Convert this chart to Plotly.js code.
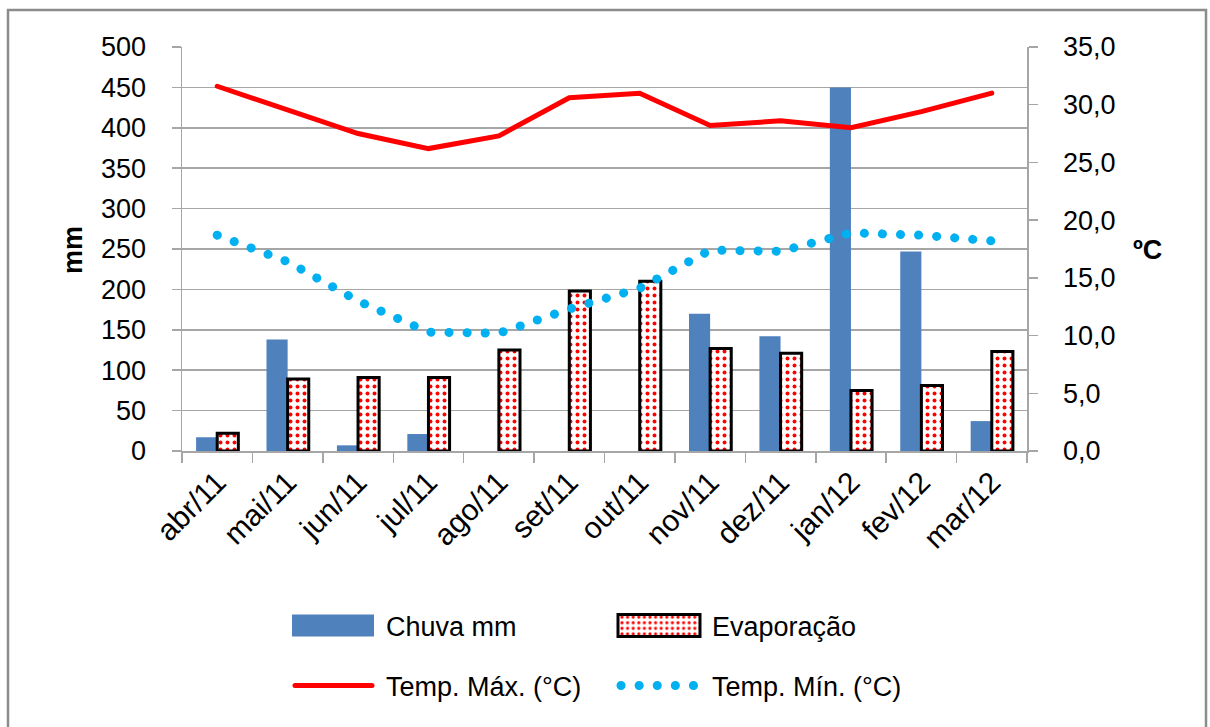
<!DOCTYPE html>
<html>
<head>
<meta charset="utf-8">
<script src="https://cdn.plot.ly/plotly-3.0.1.min.js"></script>
<style>
html,body{margin:0;padding:0;background:#fff;}
#chart{width:1210px;height:727px;}
.js-line{stroke-linecap:round !important;}
</style>
</head>
<body>
<div id="chart"></div>
<script>
const months = ['abr/11','mai/11','jun/11','jul/11','ago/11','set/11','out/11','nov/11','dez/11','jan/12','fev/12','mar/12'];
const chuva = [17, 138, 7, 21, 0, 0, 0, 170, 142, 450, 247, 37];
const evaporacao = [22, 89, 91, 91, 125, 198, 210, 127, 121, 75, 81, 123];
const tempMax = [31.6, 29.6, 27.5, 26.2, 27.3, 30.6, 31.0, 28.2, 28.6, 28.0, 29.4, 31.0];
const tempMin = [18.7, 16.4, 13.0, 10.3, 10.2, 12.3, 14.1, 17.4, 17.3, 18.9, 18.7, 18.2];
const leftTicks = [0,50,100,150,200,250,300,350,400,450,500];
const rightTicks = [0,5,10,15,20,25,30,35];

const FONT = 'Liberation Sans, Arial, sans-serif';
const GRID = '#a6a6a6';

const traces = [
  {type:'bar', name:'Chuva mm', x:months, y:chuva, yaxis:'y',
   marker:{color:'#4f81bd', line:{width:0}}, legend:'legend'},
  {type:'bar', name:'Evaporação', x:months, y:evaporacao, yaxis:'y',
   marker:{color:'#ffffff', line:{color:'#000000', width:3},
     pattern:{shape:'.', fgcolor:'#ff0000', bgcolor:'#ffffff', size:7, solidity:0.25, fillmode:'replace'}},
   legend:'legend'},
  {type:'scatter', mode:'lines', name:'Temp. Máx. (°C)', x:months, y:tempMax, yaxis:'y2',
   line:{color:'#ff0000', width:5}, legend:'legend2'},
  {type:'scatter', mode:'lines', name:'Temp. Mín. (°C)', x:months, y:tempMin, yaxis:'y2',
   line:{color:'#00b0f0', width:9, dash:'0.1px,18px'}, legend:'legend2'}
];

const legendBase = {orientation:'h', x:(290-182)/845, xanchor:'left', yanchor:'middle',
  font:{size:27, family:FONT}, entrywidth:225, itemwidth:86, traceorder:'normal', bgcolor:'rgba(0,0,0,0)'};

const layout = {
  width:1210, height:727,
  margin:{l:182, r:183, t:47, b:276, pad:0},
  paper_bgcolor:'#ffffff', plot_bgcolor:'#ffffff',
  separators:',.',
  font:{family:FONT, size:28, color:'#000000'},
  barmode:'group', bargap:0.4, bargroupgap:0,
  showlegend:true,
  xaxis:{type:'category', tickangle:-45, tickson:'boundaries', ticks:'outside', ticklen:10,
    tickcolor:GRID, tickwidth:1.5, showline:true, linecolor:GRID, linewidth:1.5,
    showgrid:false, tickfont:{size:30, family:FONT}, automargin:false, fixedrange:true},
  yaxis:{range:[0,500], tickvals:leftTicks, ticks:'outside', ticklen:9, tickcolor:GRID, tickwidth:1.5,
    showline:true, linecolor:GRID, linewidth:1.5, showgrid:true, gridcolor:GRID, gridwidth:1.5,
    zeroline:false, tickfont:{size:27, family:FONT}, ticklabelstandoff:20, automargin:false},
  yaxis2:{range:[0,35], tickvals:rightTicks, tickformat:'.1f', overlaying:'y', side:'right',
    ticks:'outside', ticklen:9, tickcolor:GRID, tickwidth:1.5, showline:true, linecolor:GRID, linewidth:1.5,
    showgrid:false, zeroline:false, tickfont:{size:27, family:FONT}, ticklabelstandoff:20, automargin:false},
  legend:Object.assign({}, legendBase, {y:(451-626)/404}),
  legend2:Object.assign({}, legendBase, {y:(451-686)/404}),
  annotations:[
    {text:'<b>mm</b>', xref:'paper', yref:'paper', x:(73-182)/845, y:(451-250)/404, showarrow:false,
     textangle:-90, font:{size:27, family:FONT}, xanchor:'center', yanchor:'middle'},
    {text:'<b>ºC</b>', xref:'paper', yref:'paper', x:(1147-182)/845, y:(451-250)/404, showarrow:false,
     font:{size:27, family:FONT}, xanchor:'center', yanchor:'middle'}
  ],
  shapes:[
    {type:'rect', xref:'paper', yref:'paper', x0:(8-182)/845, x1:(1206-182)/845,
     y0:(451-740)/404, y1:(451-10)/404, line:{color:'#8c8c8c', width:2.5}, fillcolor:'rgba(0,0,0,0)', layer:'below'}
  ]
};

function styleSwatches(gd){
  // widen the bar legend swatches into the reference's wide rectangles, leaving a gap before the text
  gd.querySelectorAll('.legendpoints path').forEach(function(p){
    var d = (p.getAttribute('d') || '').replace(/\s/g,'');
    if (/^M6,6H-6V-6H6Z$/i.test(d)) {
      p.setAttribute('d', 'M36,11H-46V-11H36Z');
    }
  });
  // shorten legend line samples slightly so there is a gap before the text
  gd.querySelectorAll('.legendlines path').forEach(function(p){
    var d = (p.getAttribute('d') || '').replace(/\s/g,'');
    var m = d.match(/^M([\d.\-]+),0h([\d.]+)$/);
    if (m && !p.dataset.shortened) {
      p.setAttribute('d', 'M' + m[1] + ',0h' + Math.max(10, parseFloat(m[2]) - 9));
      p.dataset.shortened = '1';
    }
  });
}

Plotly.newPlot('chart', traces, layout, {staticPlot:true, displayModeBar:false}).then(function(gd){
  styleSwatches(gd);
  setTimeout(function(){ styleSwatches(gd); }, 50);
});
</script>
</body>
</html>
